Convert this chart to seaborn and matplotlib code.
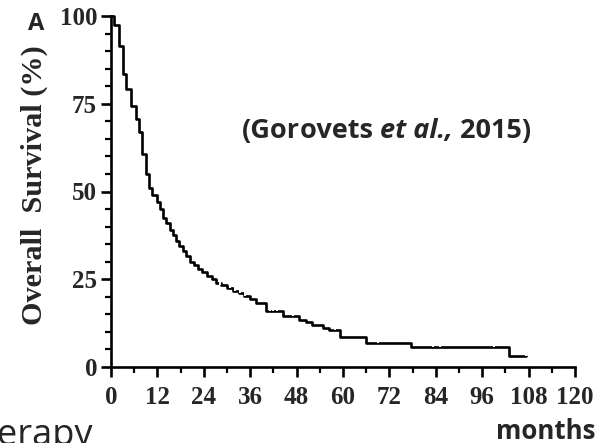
import numpy as np
import pandas as pd
import matplotlib
matplotlib.use("Agg")
import matplotlib.pyplot as plt
import seaborn as sns
from matplotlib.path import Path
from matplotlib.ticker import MultipleLocator

# ---- data ----
step_months = [0, 0.9, 2.1, 3.2, 4.0, 5.2, 6.4, 7.2, 8.1, 9.0, 9.8, 10.6, 11.9,
               12.8, 13.5, 14.3, 15.2, 16.0, 16.8, 17.7, 18.6, 19.5, 20.5, 21.5,
               22.5, 23.5, 24.8, 26.0, 27.2, 28.5, 30.0, 31.5, 33.0, 34.5, 36.0,
               37.5, 40.0, 44.5, 48.5, 50.5, 52.0, 54.8, 56.5, 59.2, 66.0, 77.6,
               103.0, 107.3]
step_survival = [100, 97.5, 91.4, 83.4, 79.1, 74.3, 70.6, 66.9, 60.6, 55.1, 50.9,
                 48.9, 47.0, 45.0, 42.5, 41.0, 39.0, 37.5, 36.0, 34.5, 33.0, 31.5,
                 30.0, 29.0, 28.0, 27.0, 26.0, 25.0, 24.0, 23.3, 22.5, 21.7, 21.0,
                 20.2, 19.4, 18.2, 16.0, 14.5, 13.5, 12.8, 12.0, 11.2, 10.5, 8.6,
                 6.9, 5.7, 3.1, 3.1]
censor_months = [28.2, 30.8, 32.0, 33.4, 34.7, 41.0, 42.0, 43.0, 47.0, 58.0, 69.0,
                 83.3, 85.0, 99.0, 107.3]
censor_survival = [23.3, 22.5, 21.7, 21.0, 20.2, 16.0, 16.0, 16.0, 14.5, 10.5, 6.9,
                   5.7, 5.7, 5.7, 3.1]
x_ticks = [0, 12, 24, 36, 48, 60, 72, 84, 96, 108, 120]
y_ticks = [0, 25, 50, 75, 100]

curve = pd.DataFrame({"months": step_months, "survival": step_survival})
cens = pd.DataFrame({"months": censor_months, "survival": censor_survival})

sns.set_style("ticks")
W, H = 610, 443
fig = plt.figure(figsize=(W / 100, H / 100), dpi=100)
ax = fig.add_axes([111 / W, 1 - 367 / H, (575 - 111) / W, (367 - 16) / H])

sns.lineplot(data=curve, x="months", y="survival", drawstyle="steps-post",
             color="black", linewidth=1.9, ax=ax, clip_on=False)
up_tick = Path([(0, 0), (0, 1)], [Path.MOVETO, Path.LINETO])
sns.scatterplot(data=cens, x="months", y="survival", marker=up_tick, s=80,
                color="black", linewidth=1.4, ax=ax, clip_on=False, zorder=3)

ax.set_xlim(0, 120)
ax.set_ylim(0, 100)
ax.set_xticks(x_ticks)
ax.set_yticks(y_ticks)
ax.xaxis.set_minor_locator(MultipleLocator(6))
ax.yaxis.set_minor_locator(MultipleLocator(5))
for s in ["top", "right"]:
    ax.spines[s].set_visible(False)
for s in ["left", "bottom"]:
    ax.spines[s].set_linewidth(1.9)
    ax.spines[s].set_color("black")
ax.tick_params(which="major", length=7, width=1.9, color="black", pad=3)
ax.tick_params(which="minor", length=4.5, width=1.6, color="black")
ax.tick_params(axis="x", which="major", pad=7)
for lab in ax.get_xticklabels() + ax.get_yticklabels():
    lab.set_fontfamily("Liberation Serif")
    lab.set_fontweight("bold")
    lab.set_fontsize(18)
ax.set_xlabel("")
ax.set_ylabel("Overall  Survival (%)", fontfamily="Liberation Serif",
              fontweight="bold", fontsize=21.8)
ax.yaxis.set_label_coords((34 - 111) / (575 - 111), (367 - 185) / (367 - 16))
ax.yaxis.label.set_va("center")

SANS = "Open Sans"
fig.canvas.draw()
r = fig.canvas.get_renderer()

# Panel letter and annotations
fig.text(28 / W, 1 - 24 / H, "A", fontfamily=SANS, fontweight="bold",
         fontsize=17, va="center", ha="left")
mt = fig.text(595 / W, 1 - 439 / H, "months", fontfamily=SANS,
              fontweight="bold", fontsize=18, va="baseline", ha="right")
w = mt.get_window_extent(renderer=r).width
mt.set_fontsize(18 * 100 / w)
fig.text(-3 / W, 1 - 445 / H, "erapy", fontfamily=SANS, fontsize=26,
         va="baseline", ha="left")

# citation with mixed styles: "ovets et al., 2015)" spans x 300..531
parts = [("(Gor", "normal"), ("ovets ", "normal"), ("et al.,", "italic"),
         (" 2015)", "normal")]
yc = 1 - 131 / H
texts = [fig.text(0, yc, txt, fontfamily=SANS, fontweight="bold",
                  fontstyle=st, fontsize=17, va="center", ha="left")
         for txt, st in parts]
widths = [t.get_window_extent(renderer=r).width for t in texts]
scale = 231 / sum(widths[1:])
for t in texts:
    t.set_fontsize(17 * scale)
widths = [t.get_window_extent(renderer=r).width for t in texts]
x0 = 531 - sum(widths)
for t, w in zip(texts, widths):
    t.set_x(x0 / W)
    x0 += w

fig.savefig("out.png", dpi=100)
